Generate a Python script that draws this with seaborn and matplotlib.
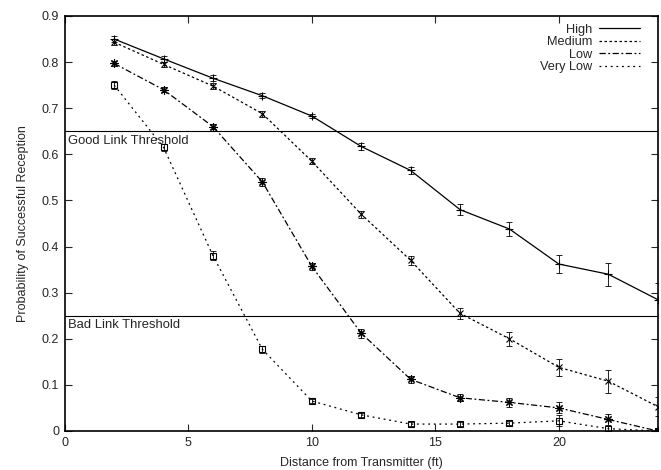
import matplotlib
matplotlib.use("Agg")
import matplotlib.pyplot as plt
from matplotlib.lines import Line2D
import numpy as np
import pandas as pd
import seaborn as sns

SERIES = ["High", "Medium", "Low", "Very Low"]
DISTANCE = [2, 4, 6, 8, 10, 12, 14, 16, 18, 20, 22, 24]

HIGH = [0.850, 0.807, 0.765, 0.727, 0.683, 0.617, 0.565, 0.480, 0.438, 0.362, 0.340, 0.285]
MEDIUM = [0.843, 0.795, 0.748, 0.688, 0.585, 0.470, 0.370, 0.255, 0.200, 0.138, 0.108, 0.053]
LOW = [0.797, 0.740, 0.660, 0.540, 0.357, 0.212, 0.112, 0.072, 0.062, 0.050, 0.025, 0.000]
VERY_LOW = [0.750, 0.615, 0.380, 0.177, 0.065, 0.035, 0.015, 0.015, 0.017, 0.022, 0.005, 0.000]

HIGH_ERR = [0.007, 0.006, 0.006, 0.005, 0.005, 0.008, 0.008, 0.012, 0.015, 0.020, 0.025, 0.035]
MEDIUM_ERR = [0.006, 0.006, 0.006, 0.006, 0.006, 0.008, 0.010, 0.012, 0.015, 0.018, 0.025, 0.020]
LOW_ERR = [0.005, 0.005, 0.006, 0.008, 0.008, 0.010, 0.008, 0.008, 0.010, 0.012, 0.012, 0.005]
VERY_LOW_ERR = [0.008, 0.008, 0.010, 0.008, 0.005, 0.004, 0.004, 0.004, 0.004, 0.012, 0.005, 0.004]

GOOD_THRESHOLD = 0.65
BAD_THRESHOLD = 0.25

VALUES = {"High": HIGH, "Medium": MEDIUM, "Low": LOW, "Very Low": VERY_LOW}
ERRORS = {"High": HIGH_ERR, "Medium": MEDIUM_ERR, "Low": LOW_ERR, "Very Low": VERY_LOW_ERR}
LINESTYLES = {
    "High": "-",
    "Medium": (0, (2, 2)),
    "Low": (0, (5, 2, 1.5, 2)),
    "Very Low": (0, (1.5, 3)),
}
MARKERS = {"High": "+", "Medium": "x", "Low": (8, 2, 0), "Very Low": "s"}
MARKER_SIZES = {"High": 6, "Medium": 5, "Low": 6, "Very Low": 4.5}

sns.set_theme(style="ticks")
plt.rcParams["font.family"] = ["Liberation Sans", "DejaVu Sans"]

fig = plt.figure(figsize=(6.61, 4.70), dpi=100)
ax = fig.add_axes([0.098, 0.083, 0.897, 0.883])

for name in SERIES:
    sdf = pd.DataFrame({"distance": DISTANCE, "prob": VALUES[name]})
    sns.lineplot(
        data=sdf, x="distance", y="prob", color="black",
        linestyle=LINESTYLES[name], linewidth=0.9,
        marker=MARKERS[name], markersize=MARKER_SIZES[name],
        markeredgecolor="black", markerfacecolor="none", markeredgewidth=0.8,
        ax=ax,
    )
    ax.errorbar(DISTANCE, VALUES[name], yerr=ERRORS[name], fmt="none",
                ecolor="black", elinewidth=0.6, capsize=2, capthick=0.6)

ax.axhline(GOOD_THRESHOLD, color="black", linewidth=0.8)
ax.axhline(BAD_THRESHOLD, color="black", linewidth=0.8)
ax.text(0.15, GOOD_THRESHOLD - 0.008, "Good Link Threshold", ha="left", va="top", fontsize=9.4)
ax.text(0.15, BAD_THRESHOLD - 0.008, "Bad Link Threshold", ha="left", va="top", fontsize=9.4)

ax.set_xlim(0, 24)
ax.set_ylim(0, 0.9)
ax.set_xticks([0, 5, 10, 15, 20])
ax.set_yticks(np.arange(0, 0.91, 0.1))
ax.set_yticklabels(["0", "0.1", "0.2", "0.3", "0.4", "0.5", "0.6", "0.7", "0.8", "0.9"])
ax.tick_params(direction="in", top=True, right=True, length=5, width=0.8, labelsize=9, pad=4)
for side in ["top", "right", "bottom", "left"]:
    ax.spines[side].set_visible(True)
    ax.spines[side].set_linewidth(1.2)
    ax.spines[side].set_color("black")

ax.set_xlabel("Distance from Transmitter (ft)", fontsize=9, labelpad=6)
ax.set_ylabel("Probability of Successful Reception", fontsize=9, labelpad=9)

handles = [Line2D([0], [0], color="black", linewidth=0.9, linestyle=LINESTYLES[s]) for s in SERIES]
ax.legend(handles, SERIES, loc="upper right", bbox_to_anchor=(0.978, 0.994),
          frameon=False, markerfirst=False,
          fontsize=9.2, handlelength=3.2, labelspacing=0.05, handletextpad=0.5,
          borderaxespad=0.0)

fig.savefig("out.png", dpi=100)
